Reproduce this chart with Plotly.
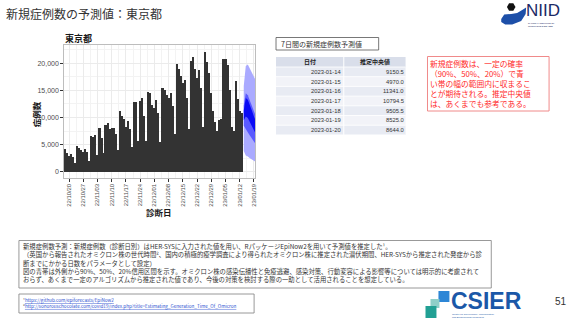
import plotly.graph_objects as go
import pandas as pd
import math

W, H = 569, 320
FONT = "Noto Sans CJK JP"

# ---------------- data ----------------
start_date = "2022-10-18"
cases = [4200, 3500, 2900, 3200, 2800, 1700,
         4700, 4400, 4000, 3600, 4100, 3700, 2000,
         6500, 6400, 6700, 3100, 8000, 6200, 3400,
         8600, 9000, 7900, 8000, 8000, 6900, 4000,
         11200, 10200, 9800, 8300, 9400, 7800, 4600,
         12800, 12800, 5700, 13000, 13600, 10300, 5700,
         14700, 14500, 12300, 11800, 13300, 10800, 5400,
         15500, 15100, 14100, 13600, 14600, 12100, 7000,
         19800, 18900, 17700, 16300, 17000, 13600, 7900,
         20500, 21200, 18900, 17300, 18700, 15400, 8300,
         22000, 20200, 18300, 14500, 11200, 9200, 7500,
         9500, 9800, 20800, 20800, 19600, 15100, 8200,
         7500, 16800, 13400, 11200, 10800]
dates = pd.date_range(start_date, periods=len(cases), freq="D")

fc_dates = ["2023-01-14", "2023-01-15", "2023-01-16", "2023-01-17",
            "2023-01-18", "2023-01-19", "2023-01-20"]
lo90 = [3800, 3000, 2800, 2500, 2300, 2000, 1800]
hi90 = [15800, 19500, 19800, 19000, 18200, 17500, 16800]
lo50 = [8500, 7800, 7300, 6700, 6100, 5500, 5000]
hi50 = [12200, 14500, 14100, 13100, 12000, 11000, 10200]
lo20 = [9500, 10200, 9900, 9200, 8400, 7600, 6900]
hi20 = [11300, 13600, 13300, 12400, 11300, 10200, 9300]

table_dates = ["2023-01-14", "2023-01-15", "2023-01-16", "2023-01-17",
               "2023-01-18", "2023-01-19", "2023-01-20"]
table_medians = ["9150.5", "4970.0", "11341.0", "10794.5", "9505.5", "8525.0", "8644.0"]
table_header = ["日付", "推定中央値"]

y_ticks = [0, 5000, 10000, 15000, 20000]

note_lines = [
    "新規症例数予測：新規症例数（診断日別）はHER-SYSに入力された値を用い、RパッケージEpiNow2を用いて予測値を推定した¹。",
    "（英国から報告されたオミクロン株の世代時間²、国内の積極的疫学調査により得られたオミクロン株に推定された潜伏期間、HER-SYSから推定された発症から診",
    "断までにかかる日数をパラメータとして設定）",
    "図の青帯は外側から90%、50%、20%信用区間を示す。オミクロン株の感染伝播性と免疫逃避、感染対策、行動変容による影響等については明示的に考慮されて",
    "おらず、あくまで一定のアルゴリズムから推定された値であり、今後の対策を検討する際の一助として活用されることを想定している。",
]
red_lines = [
    "新規症例数は、一定の確率",
    "（90%、50%、20%）で青",
    "い帯の幅の範囲内に収まるこ",
    "とが期待される。推定中央値",
    "は、あくまでも参考である。",
]
links = [
    ("¹", "https://github.com/epiforecasts/EpiNow2"),
    ("²", "http://sonorouschocolate.com/covid19/index.php?title=Estimating_Generation_Time_Of_Omicron"),
]

# ---------------- helpers ----------------
def xp(x):
    return x / W

def yp(y):
    return 1 - y / H

fig = go.Figure()

# bars
fig.add_trace(go.Bar(x=dates, y=cases, marker_color="#333333",
                     marker_line_width=0, width=0.82 * 86400000,
                     hoverinfo="skip"))

# forecast bands
for lo, hi, col in [(lo90, hi90, "#aaaaff"), (lo50, hi50, "#5a5aff"), (lo20, hi20, "#0a0af5")]:
    fig.add_trace(go.Scatter(x=fc_dates + fc_dates[::-1], y=hi + lo[::-1],
                             fill="toself", fillcolor=col, line=dict(width=0),
                             mode="lines", hoverinfo="skip"))

fig.update_layout(
    width=W, height=H, margin=dict(l=0, r=0, t=0, b=0),
    paper_bgcolor="white", plot_bgcolor="white", showlegend=False,
    font=dict(family=FONT, color="#333333"),
    bargap=0,
)
fig.update_xaxes(
    domain=[xp(64), xp(256)], type="date",
    range=["2022-10-17 10:00", "2023-01-19 14:00"],
    tick0="2022-10-20", dtick=7 * 86400000, tickformat="%y/%m/%d",
    tickangle=-90, tickfont=dict(size=5.9, color="#4d4d4d", family="Liberation Sans"),
    ticks="outside", ticklen=2.5, tickcolor="#333333", tickwidth=0.6,
    showgrid=True, gridcolor="#ebebeb", gridwidth=0.8,
    minor=dict(dtick=3.5 * 86400000, tick0="2022-10-20", showgrid=True,
               gridcolor="#f3f3f3", gridwidth=0.5),
    showline=True, mirror=True, linecolor="#bdbdbd", linewidth=1,
    zeroline=False,
)
fig.update_yaxes(
    domain=[yp(178), yp(45)], range=[-1160, 23380],
    tickvals=y_ticks, ticktext=[f"{v:,}" for v in y_ticks],
    tickfont=dict(size=7, color="#4d4d4d", family="Liberation Sans"),
    ticks="outside", ticklen=2.5, tickcolor="#333333", tickwidth=0.6,
    showgrid=True, gridcolor="#ebebeb", gridwidth=0.8,
    minor=dict(dtick=2500, showgrid=True, gridcolor="#f3f3f3", gridwidth=0.5),
    showline=True, mirror=True, linecolor="#bdbdbd", linewidth=1,
    zeroline=False,
)

ann = []
shapes = []

def text(x, y, s, size, color="#333333", anchor="left", bold=False, family=FONT, yanchor="middle", angle=0, align="left"):
    if bold:
        s = f"<b>{s}</b>"
    ann.append(dict(x=xp(x), y=yp(y), xref="paper", yref="paper", text=s,
                    showarrow=False, xanchor=anchor, yanchor=yanchor, textangle=angle, align=align,
                    borderpad=0,
                    font=dict(size=size, color=color, family=family)))

def rect(x0, y0, x1, y1, fill="rgba(0,0,0,0)", line=None, lw=0.8):
    shapes.append(dict(type="rect", xref="paper", yref="paper",
                       x0=xp(x0), x1=xp(x1), y0=yp(y1), y1=yp(y0),
                       fillcolor=fill, line=dict(color=line or "rgba(0,0,0,0)", width=lw if line else 0),
                       layer="below"))

# slide title
text(5, 13.5, "新規症例数の予測値：東京都", 12, "#333333")
# chart title and axis titles
text(64, 39, "東京都", 9, "#1a1a1a", bold=True)
text(36.5, 114, "症例数", 8.5, "#1a1a1a", anchor="center", bold=True, angle=-90)
text(160, 212, "診断日", 8.5, "#1a1a1a", anchor="center", bold=True)

# 7-day box
rect(277, 37.5, 380, 50, line="#555555", lw=0.8)
text(281, 43.5, "7日間の新規症例数予測値", 7, "#333333")

# table
tx0, tmid, tx1 = 277, 345, 407
hy0, hh, rh = 57, 10, 9.7
rect(tx0, hy0, tx1, hy0 + hh, fill="#d9deea")
text((tx0 + tmid) / 2, hy0 + hh / 2, table_header[0], 6, "#222222", anchor="center", bold=True)
text((tmid + tx1) / 2, hy0 + hh / 2, table_header[1], 6, "#222222", anchor="center", bold=True)
for i, (d, m) in enumerate(zip(table_dates, table_medians)):
    y0 = hy0 + hh + i * rh
    rect(tx0, y0, tx1, y0 + rh, fill="#e8ebf3" if i % 2 == 0 else "#f2f3f8")
    text(tmid - 1.5, y0 + rh / 2, d, 5.8, "#333333", anchor="right", family="Liberation Sans")
    text(tx1 - 1, y0 + rh / 2, m, 5.8, "#333333", anchor="right", family="Liberation Sans")
shapes.append(dict(type="line", xref="paper", yref="paper", x0=xp(tmid), x1=xp(tmid),
                   y0=yp(hy0 + hh + 7 * rh), y1=yp(hy0), line=dict(color="white", width=1)))
for i in range(8):
    yy = hy0 + hh + i * rh
    shapes.append(dict(type="line", xref="paper", yref="paper", x0=xp(tx0), x1=xp(tx1),
                       y0=yp(yy), y1=yp(yy), line=dict(color="white", width=0.8)))

# red note box
rect(429, 56.5, 551, 111, line="#f08a8a", lw=1)
text(431, 83.2, "<br>".join(red_lines), 7.75, "#ff2a2a")

# bottom note box
rect(19, 240.5, 493, 288, line="#7f7f7f", lw=0.8)
text(22, 262.6, "<br>".join(note_lines), 6.35, "#333333")

# footnote link box
rect(19, 294, 255, 313, line="#7f7f7f", lw=0.8)
link_txt = "<br>".join(f"{sup}<span style='color:#2a4fd0'><u>{url}</u></span>" for sup, url in links)
text(22, 303.5, link_txt, 4.6, "#333333")

# page number
text(556, 301, "51", 10, "#333333", family="Liberation Sans")

# NIID logo
hx, hy, hr = 513, 7, 4.3
hexpath = "M " + " L ".join(f"{xp(hx + hr * math.cos(math.radians(a)))},{yp(hy + hr * math.sin(math.radians(a)))}"
                            for a in range(0, 360, 60)) + " Z"
shapes.append(dict(type="path", xref="paper", yref="paper", path=hexpath,
                   fillcolor="#111111", line=dict(width=0)))
pts = [(503, 19), (506, 14.5), (513, 14), (519, 13), (524, 10), (528, 7.5),
       (527.5, 14), (523, 21), (514, 24.5), (507, 24.5), (503, 22)]
swoosh = "M " + " L ".join(f"{xp(a)},{yp(b)}" for a, b in pts) + " Z"
shapes.append(dict(type="path", xref="paper", yref="paper", path=swoosh,
                   fillcolor="#1d4fa8", line=dict(width=0)))
text(527, 10.5, "NIID", 17, "#1c2a66", family="Liberation Sans")
text(529, 24.2, "NATIONAL INSTITUTE OF<br>INFECTIOUS DISEASES", 2.2, "#1c2a66", family="Liberation Sans")

# CSIER logo
rect(440, 291, 451, 302, fill="#2d86d6")
rect(432, 299, 441, 308, fill="#8fcfc8")
rect(427, 306, 438, 318, fill="#22a094")
text(452, 300.5, "<b>CSIER</b>", 23, "#1b58a8", family="Liberation Sans")
text(453, 315.5, "Center for Surveillance, Immunization,<br>and Epidemiologic Research", 2.5, "#1b58a8", family="Liberation Sans")

fig.update_layout(annotations=ann, shapes=shapes)
fig.write_html("out.html")
